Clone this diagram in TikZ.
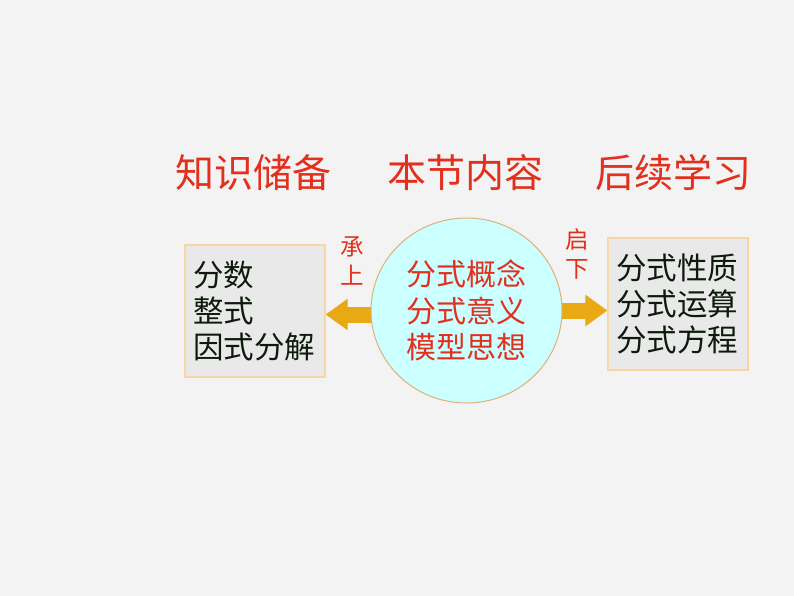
\documentclass[tikz,border=0pt]{standalone}
\usepackage{fontspec}
\newfontfamily\cjk{Noto Sans CJK SC}
\usetikzlibrary{shapes.geometric,arrows.meta}
\definecolor{bgc}{HTML}{F3F3F3}
\definecolor{redt}{HTML}{E2301C}
\definecolor{boxfill}{HTML}{E9E9E9}
\definecolor{boxline}{HTML}{F5D6A4}
\definecolor{cfill}{HTML}{CCFFFF}
\definecolor{cline}{HTML}{DDB277}
\definecolor{arr}{HTML}{E9A914}
\definecolor{darkt}{HTML}{0E1A0C}
\pgfdeclarelayer{back}
\pgfsetlayers{back,main}
\begin{document}
\begin{tikzpicture}[x=1pt,y=1pt,
  header/.style={font=\cjk\fontsize{39}{42}\selectfont, text=redt, inner sep=0pt},
  sidelabel/.style={font=\cjk\fontsize{23.5}{29}\selectfont, text=redt, align=center, inner sep=0pt},
  infobox/.style={draw=boxline, fill=boxfill, line width=1.2pt, minimum width=140pt, minimum height=132pt,
    text width=124pt, align=left, inner sep=0pt, text=darkt, font=\cjk\fontsize{30.5}{36}\selectfont},
  core/.style={ellipse, draw=cline, fill=cfill, line width=1pt, minimum width=191pt, minimum height=185pt,
    inner sep=0pt, align=center, text=redt, font=\cjk\fontsize{30}{36.5}\selectfont},
  bigarrow/.style={draw=arr, line width=16pt, -{Triangle[length=22pt,width=30pt]}}
]
\begin{pgfonlayer}{back}
\fill[bgc] (0,0) rectangle (794,-596);
\end{pgfonlayer}
\useasboundingbox (0,0) rectangle (794,-596);

\node[header] (h1) at (253,-173) {知识储备};
\node[header] (h2) at (465,-173) {本节内容};
\node[header] (h3) at (673,-173) {后续学习};

\node[infobox] (lb) at (255,-311) {分数\\整式\\因式分解};
\node[infobox] (rb) at (678,-304) {分式性质\\分式运算\\分式方程};
\node[core] (c) at (466.5,-310.5) {分式概念\\分式意义\\模型思想};

\node[sidelabel] (l1) at (352,-261) {承\\上};
\node[sidelabel] (l2) at (577,-254) {启\\下};

\begin{pgfonlayer}{back}
\draw[bigarrow] ([xshift=10pt,yshift=-4pt]c.west) -- (lb.east |- 0,-314.5);
\draw[bigarrow] ([xshift=-10pt]c.east) -- (rb.west |- c.east);
\end{pgfonlayer}
\end{tikzpicture}
\end{document}
